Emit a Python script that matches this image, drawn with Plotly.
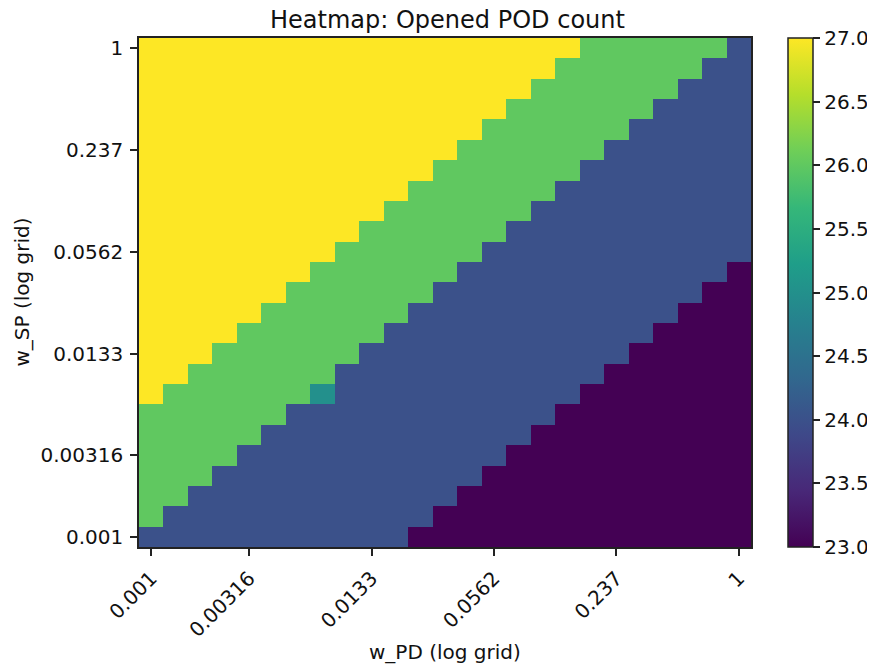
import plotly.graph_objects as go

# Grid indices (25 log-spaced weights from 0.001 to 1)
w_pd_index = list(range(25))
w_sp_index = list(range(25))

tick_index = [0, 4, 9, 14, 19, 24]
tick_labels = ["0.001", "0.00316", "0.0133", "0.0562", "0.237", "1"]

cbar_ticks = [23, 23.5, 24, 24.5, 25, 25.5, 26, 26.5, 27]
cbar_labels = ["23.0", "23.5", "24.0", "24.5", "25.0", "25.5", "26.0", "26.5", "27.0"]

# Opened POD count; rows = w_SP index (bottom to top), columns = w_PD index
pod_count = [
    [24,24,24,24,24,24,24,24,24,24,24,23,23,23,23,23,23,23,23,23,23,23,23,23,23],
    [26,24,24,24,24,24,24,24,24,24,24,24,23,23,23,23,23,23,23,23,23,23,23,23,23],
    [26,26,24,24,24,24,24,24,24,24,24,24,24,23,23,23,23,23,23,23,23,23,23,23,23],
    [26,26,26,24,24,24,24,24,24,24,24,24,24,24,23,23,23,23,23,23,23,23,23,23,23],
    [26,26,26,26,24,24,24,24,24,24,24,24,24,24,24,23,23,23,23,23,23,23,23,23,23],
    [26,26,26,26,26,24,24,24,24,24,24,24,24,24,24,24,23,23,23,23,23,23,23,23,23],
    [26,26,26,26,26,26,24,24,24,24,24,24,24,24,24,24,24,23,23,23,23,23,23,23,23],
    [27,26,26,26,26,26,26,25,24,24,24,24,24,24,24,24,24,24,23,23,23,23,23,23,23],
    [27,27,26,26,26,26,26,26,24,24,24,24,24,24,24,24,24,24,24,23,23,23,23,23,23],
    [27,27,27,26,26,26,26,26,26,24,24,24,24,24,24,24,24,24,24,24,23,23,23,23,23],
    [27,27,27,27,26,26,26,26,26,26,24,24,24,24,24,24,24,24,24,24,24,23,23,23,23],
    [27,27,27,27,27,26,26,26,26,26,26,24,24,24,24,24,24,24,24,24,24,24,23,23,23],
    [27,27,27,27,27,27,26,26,26,26,26,26,24,24,24,24,24,24,24,24,24,24,24,23,23],
    [27,27,27,27,27,27,27,26,26,26,26,26,26,24,24,24,24,24,24,24,24,24,24,24,23],
    [27,27,27,27,27,27,27,27,26,26,26,26,26,26,24,24,24,24,24,24,24,24,24,24,24],
    [27,27,27,27,27,27,27,27,27,26,26,26,26,26,26,24,24,24,24,24,24,24,24,24,24],
    [27,27,27,27,27,27,27,27,27,27,26,26,26,26,26,26,24,24,24,24,24,24,24,24,24],
    [27,27,27,27,27,27,27,27,27,27,27,26,26,26,26,26,26,24,24,24,24,24,24,24,24],
    [27,27,27,27,27,27,27,27,27,27,27,27,26,26,26,26,26,26,24,24,24,24,24,24,24],
    [27,27,27,27,27,27,27,27,27,27,27,27,27,26,26,26,26,26,26,24,24,24,24,24,24],
    [27,27,27,27,27,27,27,27,27,27,27,27,27,27,26,26,26,26,26,26,24,24,24,24,24],
    [27,27,27,27,27,27,27,27,27,27,27,27,27,27,27,26,26,26,26,26,26,24,24,24,24],
    [27,27,27,27,27,27,27,27,27,27,27,27,27,27,27,27,26,26,26,26,26,26,24,24,24],
    [27,27,27,27,27,27,27,27,27,27,27,27,27,27,27,27,27,26,26,26,26,26,26,24,24],
    [27,27,27,27,27,27,27,27,27,27,27,27,27,27,27,27,27,27,26,26,26,26,26,26,24],
]

FONT = "DejaVu Sans"
INK = "#111111"

# figure is placed by the browser 8px from the page corner
W, H = 867, 658
ML, MR, MT, MB = 131, 124, 30, 119
PW = W - ML - MR
PH = H - MT - MB

fig = go.Figure(
    go.Heatmap(
        x=w_pd_index,
        y=w_sp_index,
        z=pod_count,
        colorscale="Viridis",
        zmin=23,
        zmax=27,
        colorbar=dict(
            x=(780 - ML) / PW,
            xanchor="left",
            xpad=0,
            ypad=0,
            y=0.5,
            yanchor="middle",
            len=1.0,
            lenmode="fraction",
            thickness=25,
            outlinewidth=1.5,
            outlinecolor="#222",
            ticks="outside",
            ticklen=7,
            tickwidth=1.5,
            tickcolor="#222",
            tickvals=cbar_ticks,
            ticktext=cbar_labels,
            tickfont=dict(family=FONT, size=20, color=INK),
        ),
        hovertemplate="w_PD idx %{x}<br>w_SP idx %{y}<br>count %{z}<extra></extra>",
    )
)

fig.update_layout(
    width=W,
    height=H,
    paper_bgcolor="white",
    plot_bgcolor="white",
    margin=dict(l=ML, r=MR, t=MT, b=MB, autoexpand=False),
    font=dict(family=FONT, size=20, color=INK),
    title=dict(
        text="Heatmap: Opened POD count",
        x=(445 - 8) / W,
        xref="paper",
        xanchor="center",
        y=1 - 3 / H,
        yanchor="top",
        pad=dict(t=0, b=0),
        font=dict(family=FONT, size=24, color=INK),
    ),
    annotations=[
        dict(
            text="w_PD (log grid)",
            xref="paper", yref="paper",
            x=0.5, y=-(644 - (H - MB)) / PH,
            xanchor="center", yanchor="middle",
            showarrow=False,
            font=dict(family=FONT, size=20, color=INK),
        ),
        dict(
            text="w_SP (log grid)",
            xref="paper", yref="paper",
            x=(13 - ML) / PW, y=0.5,
            xanchor="center", yanchor="middle",
            textangle=-90,
            showarrow=False,
            font=dict(family=FONT, size=20, color=INK),
        ),
    ],
)

axis_common = dict(
    showgrid=False,
    zeroline=False,
    showline=True,
    linecolor="#222",
    linewidth=1.5,
    mirror=True,
    ticks="outside",
    ticklen=7,
    tickwidth=1.5,
    tickcolor="#222",
    ticklabelstandoff=3,
    tickfont=dict(family=FONT, size=20, color=INK),
    range=[-0.5, 24.5],
    fixedrange=True,
    automargin=False,
    tickmode="array",
    tickvals=tick_index,
    ticktext=tick_labels,
)

fig.update_xaxes(**axis_common, tickangle=-45)
fig.update_yaxes(**axis_common)

fig.write_html("out.html")
